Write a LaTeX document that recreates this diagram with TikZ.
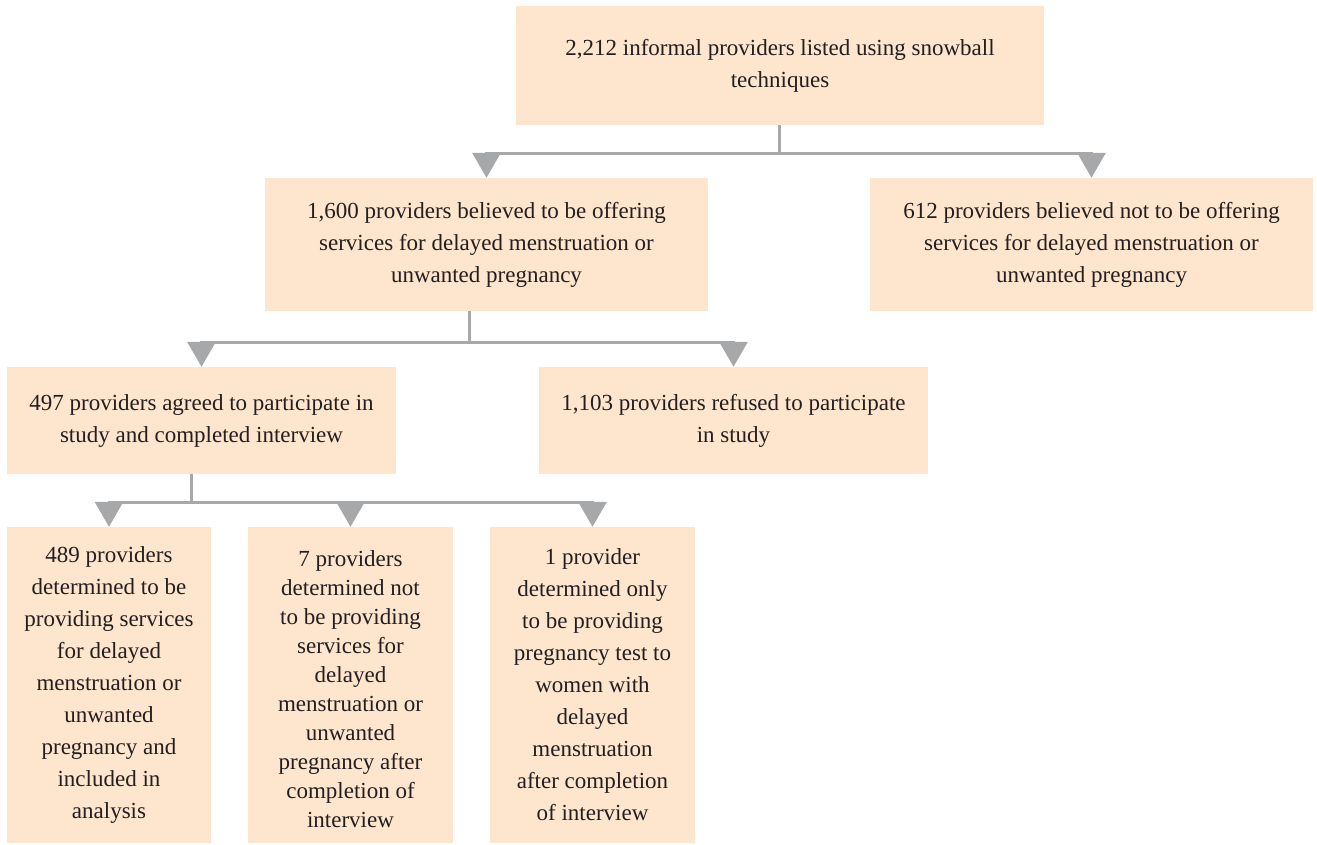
\documentclass[tikz,border=0pt]{standalone}
\usepackage{fontspec}
\setmainfont{Liberation Serif}
\usetikzlibrary{arrows.meta}
\definecolor{boxfill}{HTML}{FDE5CE}
\definecolor{conngray}{HTML}{A7A8AA}
\definecolor{txt}{HTML}{231F20}
\tikzset{
  box/.style={fill=boxfill, draw=none, align=center, text=txt, inner sep=0pt,
    font=\fontsize{23}{32}\selectfont},
  line/.style={draw=conngray, line width=3pt},
  arrowline/.style={line, -{Triangle[length=25pt,width=28pt]}},
}
\begin{document}
\begin{tikzpicture}[x=1pt,y=-1pt]
\useasboundingbox (0,0) rectangle (1317,844);
\node[box, minimum width=528pt, minimum height=119pt] (top) at (780,65.5)
  {\fontsize{23}{33}\selectfont 2,212 informal providers listed using snowball\\techniques};
\node[box, minimum width=443pt, minimum height=133pt] (n1600) at (486.5,244.5)
  {1,600 providers believed to be offering\\services for delayed menstruation or\\unwanted pregnancy};
\node[box, minimum width=443pt, minimum height=133pt] (n612) at (1091.5,244.5)
  {612 providers believed not to be offering\\services for delayed menstruation or\\unwanted pregnancy};
\node[box, minimum width=389pt, minimum height=107pt] (n497) at (201.5,420.5)
  {497 providers agreed to participate in\\study and completed interview};
\node[box, minimum width=389pt, minimum height=107pt] (n1103) at (733.5,420.5)
  {1,103 providers refused to participate\\in study};
\node[box, minimum width=204pt, minimum height=316pt] (b1) at (109,685)
  {489 providers\\determined to be\\providing services\\for delayed\\menstruation or\\unwanted\\pregnancy and\\included in\\analysis};
\node[box, minimum width=205pt, minimum height=316pt] (b2) at (350.5,685) {};
\node[box, font=\fontsize{23}{29}\selectfont, fill=none] (b2t) at (350.5,689)
  {7 providers\\determined not\\to be providing\\services for\\delayed\\menstruation or\\unwanted\\pregnancy after\\completion of\\interview};
\node[box, minimum width=205pt, minimum height=316pt] (b3) at (592.5,685)
  {1 provider\\determined only\\to be providing\\pregnancy test to\\women with\\delayed\\menstruation\\after completion\\of interview};
\coordinate (j1) at (779,153);
\coordinate (j2) at (469,342);
\coordinate (j3) at (191,502);
\draw[line] (top.south -| j1) -- (j1);
\draw[arrowline] (j1) -| (n1600.north);
\draw[arrowline] (j1) -| (n612.north);
\draw[line] (n1600.south -| j2) -- (j2);
\draw[arrowline] (j2) -| (n497.north);
\draw[arrowline] (j2) -| (n1103.north);
\draw[line] (n497.south -| j3) -- (j3);
\draw[arrowline] (j3) -| (b1.north);
\draw[arrowline] (j3) -| (b2.north);
\draw[arrowline] (j3) -| (b3.north);
\end{tikzpicture}
\end{document}
